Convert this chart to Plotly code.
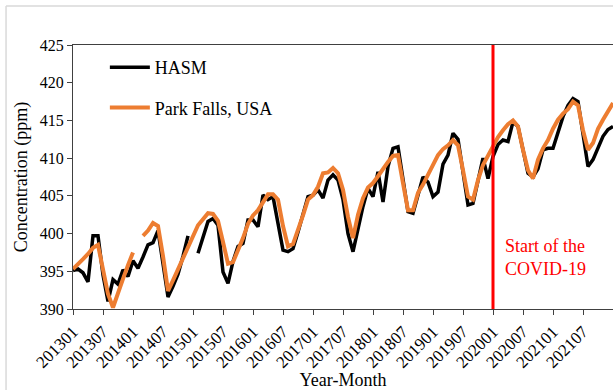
import plotly.graph_objects as go

# Monthly categories, 2013-01 through 2022-01
months = [f"{y}{m:02d}" for y in range(2013, 2023) for m in range(1, 13)][:109]

# XCO2 concentration (ppm): HASM model vs. Park Falls TCCON station
hasm = [
    395.1, 395.3, 394.8, 393.6, 399.7, 399.7, 394.5, 391.0, 393.9, 393.3, 395.2, 394.3,
    396.4, 395.4, 396.9, 398.5, 398.8, 400.4, 396.0, 391.6, 393.0, 394.6, 397.0, 399.7,
    None, 397.4, 399.4, 401.6, 402.0, 401.1, 394.9, 393.4, 396.3, 398.3, 398.7, 401.8,
    401.8, 400.9, 405.1, 404.5, 404.9, 401.6, 397.8, 397.6, 398.0, 400.2, 402.7, 404.9,
    405.1, 405.8, 404.7, 407.1, 407.8, 407.1, 404.5, 400.0, 397.6, 400.7, 403.6, 406.0,
    404.9, 408.2, 404.2, 408.9, 411.3, 411.5, 407.5, 402.9, 402.7, 405.3, 407.5, 406.8,
    404.9, 405.5, 409.2, 410.4, 413.3, 412.5, 408.0, 403.8, 404.0, 407.1, 410.0, 407.3,
    410.2, 411.8, 412.4, 412.2, 414.8, 414.2, 411.1, 408.0, 407.5, 408.6, 411.1, 411.3,
    411.3, 413.5, 415.5, 417.0, 417.9, 417.5, 413.3, 408.9, 409.8, 411.3, 412.9, 413.8,
    414.2,
]
park_falls = [
    395.3, 395.9, 396.6, 397.3, 398.1, 398.5, 395.1, 392.0, 390.2, 392.3, 394.0, 395.8,
    397.5, None, 399.7, 400.4, 401.4, 401.0, 397.0, 392.4, 393.8, 395.3, 396.8, 398.4,
    399.8, 401.1, 401.9, 402.7, 402.6, 401.7, 398.9, 396.0, 396.2, 397.7, 399.4, 401.3,
    402.4, 403.1, 404.1, 405.2, 405.2, 404.5, 401.0, 398.3, 398.6, 400.4, 402.4, 404.5,
    405.1, 406.2, 408.0, 408.1, 408.7, 408.0, 405.8, 402.2, 399.4, 402.5, 404.7, 406.1,
    406.7, 407.6, 408.6, 409.5, 410.3, 410.4, 406.7, 403.1, 403.1, 405.4, 406.5, 407.8,
    409.1, 410.4, 411.2, 411.7, 412.4, 411.7, 408.4, 404.9, 404.5, 407.1, 409.1, 410.4,
    411.7, 412.8, 413.7, 414.5, 415.0, 414.2, 411.1, 408.4, 407.3, 409.8, 411.3, 412.4,
    413.9, 415.1, 415.9, 416.5, 417.5, 417.0, 413.7, 411.1, 412.0, 413.9, 415.1, 416.2,
    417.3,
]

tick_months = months[0:103:6]
y_ticks = [390, 395, 400, 405, 410, 415, 420, 425]
covid_start = "202001"

serif = "Liberation Serif, Times New Roman, serif"

fig = go.Figure()
fig.add_trace(go.Scatter(
    x=months, y=hasm, mode="lines", name="HASM",
    line=dict(color="#000000", width=3.5), legendgroup="hasm",
))
fig.add_trace(go.Scatter(
    x=months, y=park_falls, mode="lines", name="Park Falls, USA",
    line=dict(color="#ED7D31", width=4), legendgroup="pf",
))

covid_idx = months.index(covid_start)
fig.add_shape(type="line", xref="x", yref="paper",
              x0=covid_idx, x1=covid_idx, y0=0, y1=1,
              line=dict(color="#FF0000", width=3))
fig.add_annotation(xref="x", yref="paper", x=covid_idx, y=0.285,
                   xanchor="left", yanchor="top", xshift=10, showarrow=False,
                   align="left", text="Start of the<br>COVID-19",
                   font=dict(family=serif, size=18, color="#FF0000"))

# light frame of the chart area
frame = dict(color="#D9D9D9", width=1.5)
fig.add_shape(type="line", xref="paper", yref="paper",
              x0=-0.124, x1=-0.124, y0=-0.4, y1=1.148, line=frame)
fig.add_shape(type="line", xref="paper", yref="paper",
              x0=-0.124, x1=1.1, y0=1.148, y1=1.148, line=frame)

fig.update_layout(
    template="none",
    width=613, height=390,
    margin=dict(l=73, r=0, t=45, b=81),
    paper_bgcolor="white", plot_bgcolor="white",
    font=dict(family=serif, size=16, color="#000000"),
    showlegend=True,
    legend=dict(x=0.059, y=0.985, xanchor="left", yanchor="top",
                bgcolor="rgba(0,0,0,0)", font=dict(family=serif, size=18),
                tracegroupgap=14, traceorder="grouped", itemwidth=40),
    xaxis=dict(
        type="category", range=[0, 108], automargin=False,
        tickmode="array", tickvals=tick_months, ticktext=tick_months,
        tickangle=-45, ticks="outside", ticklen=5, tickcolor="#404040",
        showline=True, linecolor="#404040", linewidth=1, mirror=True,
        showgrid=False, zeroline=False,
        tickfont=dict(family=serif, size=17),
        title=dict(text="Year-Month", font=dict(family=serif, size=18)),
    ),
    yaxis=dict(
        range=[390, 425], automargin=False,
        tickmode="array", tickvals=y_ticks,
        ticks="outside", ticklen=5, tickcolor="#404040",
        showline=True, linecolor="#404040", linewidth=1,
        showgrid=False, zeroline=False,
        tickfont=dict(family=serif, size=16),
        title=dict(text="Concentration (ppm)", font=dict(family=serif, size=18)),
    ),
)

fig.write_html("out.html")
